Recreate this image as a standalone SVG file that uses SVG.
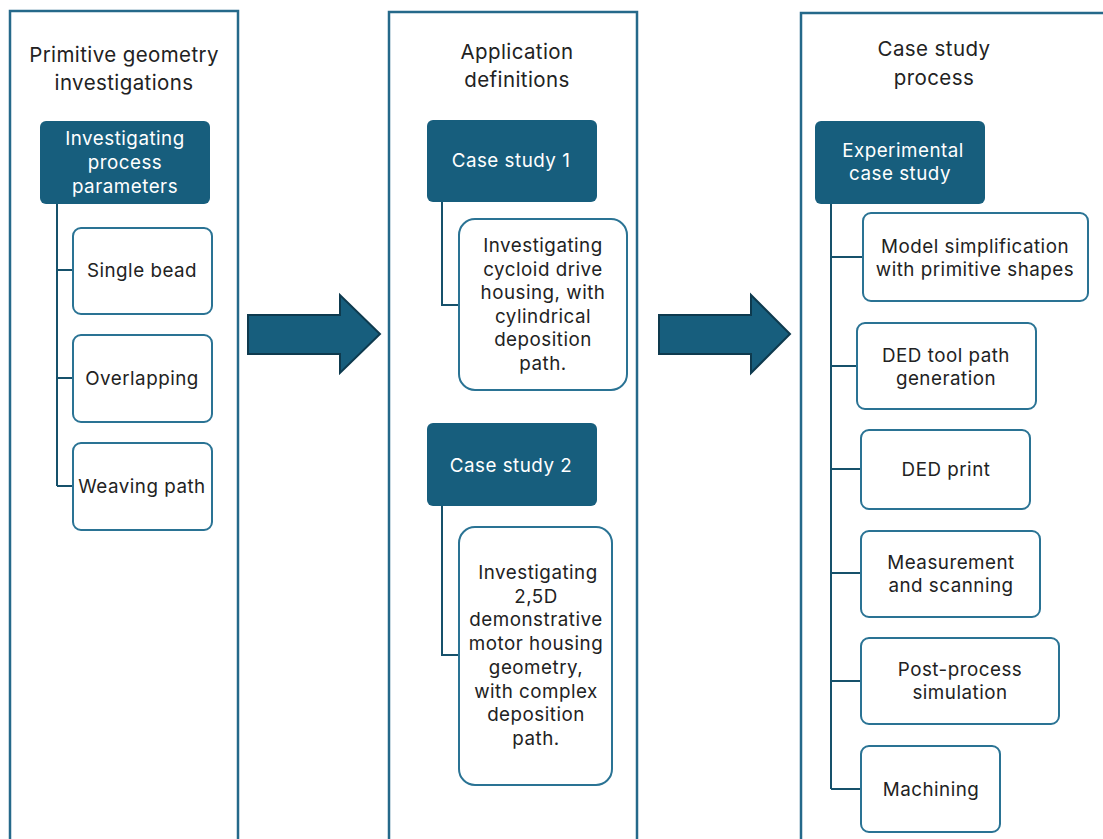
<svg xmlns="http://www.w3.org/2000/svg" width="1103" height="839" viewBox="0 0 1103 839">
<defs>
<style>
.panel{fill:#fff;stroke:#25698a;stroke-width:2.5}
.dark{fill:#175e7d;stroke:none}
.child{fill:#fff;stroke:#2a7394;stroke-width:2}
.conn{fill:none;stroke:#16516b;stroke-width:2}
.arrow{fill:#175e7d;stroke:#0e3a4e;stroke-width:2}
.t{font-family:Inter,"Open Sans","Liberation Sans",sans-serif;font-size:18.8px;letter-spacing:0.5px;fill:#222;text-anchor:middle}
.title{font-family:Inter,"Open Sans","Liberation Sans",sans-serif;font-size:20.5px;letter-spacing:0.4px;fill:#222;text-anchor:middle}
.w{font-family:Inter,"Open Sans","Liberation Sans",sans-serif;font-size:18.8px;letter-spacing:0.5px;fill:#fff;text-anchor:middle}
</style>
</defs>
<rect width="1103" height="839" fill="#fff"/>

<g id="panel1">
<rect class="panel" x="10" y="11" width="228" height="840"/>
<text class="title" x="124" y="62">Primitive geometry<tspan x="124" dy="28">investigations</tspan></text>
</g>
<g id="panel2">
<rect class="panel" x="389" y="12" width="248" height="840"/>
<text class="title" x="517" y="59">Application<tspan x="517" dy="28">definitions</tspan></text>
</g>
<g id="panel3">
<rect class="panel" x="801" y="13" width="320" height="840"/>
<text class="title" x="934" y="56">Case study<tspan x="934" dy="29">process</tspan></text>
</g>

<g id="arrows">
<path class="arrow" d="M248,315 L340,315 L340,295 L380,334 L340,373 L340,354 L248,354 Z"/>
<path class="arrow" d="M659,315 L751,315 L751,295 L790,334 L751,373 L751,354 L659,354 Z"/>
</g>

<g id="connectors">
<path class="conn" d="M57,204 V486 M57,270 H74 M57,378 H74 M57,486 H74"/>
<path class="conn" d="M442,202 V305 H459"/>
<path class="conn" d="M442,506 V655 H459"/>
<path class="conn" d="M831,204 V789 M831,257 H863 M831,366 H857 M831,469 H861 M831,573 H861 M831,681 H861 M831,789 H861"/>
</g>

<g id="n-process-params">
<rect class="dark" x="40" y="121" width="170" height="83" rx="6"/>
<text class="w" x="125" y="145">Investigating<tspan x="125" dy="24">process</tspan><tspan x="125" dy="24">parameters</tspan></text>
</g>
<g id="n-single-bead">
<rect class="child" x="73" y="228" width="139" height="86" rx="8"/>
<text class="t" x="142" y="277">Single bead</text>
</g>
<g id="n-overlapping">
<rect class="child" x="73" y="335" width="139" height="87" rx="8"/>
<text class="t" x="142" y="385">Overlapping</text>
</g>
<g id="n-weaving">
<rect class="child" x="73" y="443" width="139" height="87" rx="8"/>
<text class="t" x="142" y="493">Weaving path</text>
</g>

<g id="n-case1">
<rect class="dark" x="427" y="120" width="170" height="82" rx="6"/>
<text class="w" x="511" y="167">Case study 1</text>
</g>
<g id="n-case1-desc">
<rect class="child" x="459" y="219" width="168" height="171" rx="16"/>
<text class="t" x="543" y="252">Investigating<tspan x="543" dy="23.5">cycloid drive</tspan><tspan x="543" dy="23.5">housing, with</tspan><tspan x="543" dy="23.5">cylindrical</tspan><tspan x="543" dy="23.5">deposition</tspan><tspan x="543" dy="23.5">path.</tspan></text>
</g>
<g id="n-case2">
<rect class="dark" x="427" y="423" width="170" height="83" rx="6"/>
<text class="w" x="511" y="472">Case study 2</text>
</g>
<g id="n-case2-desc">
<rect class="child" x="459" y="527" width="153" height="258" rx="16"/>
<text class="t" x="536" y="579"><tspan x="538">Investigating</tspan><tspan x="536" dy="23.7">2,5D</tspan><tspan x="536" dy="23.7">demonstrative</tspan><tspan x="536" dy="23.7">motor housing</tspan><tspan x="536" dy="23.7">geometry,</tspan><tspan x="536" dy="23.7">with complex</tspan><tspan x="536" dy="23.7">deposition</tspan><tspan x="536" dy="23.7">path.</tspan></text>
</g>

<g id="n-experimental">
<rect class="dark" x="815" y="121" width="170" height="83" rx="6"/>
<text class="w" x="903" y="157">Experimental<tspan x="900" dy="23">case study</tspan></text>
</g>
<g id="n-model">
<rect class="child" x="863" y="213" width="225" height="88" rx="8"/>
<text class="t" x="975" y="253">Model simplification<tspan x="975" dy="23">with primitive shapes</tspan></text>
</g>
<g id="n-toolpath">
<rect class="child" x="857" y="323" width="179" height="86" rx="8"/>
<text class="t" x="946" y="362">DED tool path<tspan x="946" dy="23">generation</tspan></text>
</g>
<g id="n-print">
<rect class="child" x="861" y="430" width="169" height="79" rx="8"/>
<text class="t" x="946" y="476">DED print</text>
</g>
<g id="n-measure">
<rect class="child" x="861" y="531" width="179" height="86" rx="8"/>
<text class="t" x="951" y="569">Measurement<tspan x="951" dy="23">and scanning</tspan></text>
</g>
<g id="n-postprocess">
<rect class="child" x="861" y="638" width="198" height="86" rx="8"/>
<text class="t" x="960" y="676">Post-process<tspan x="960" dy="23">simulation</tspan></text>
</g>
<g id="n-machining">
<rect class="child" x="861" y="746" width="139" height="86" rx="8"/>
<text class="t" x="931" y="796">Machining</text>
</g>
</svg>
